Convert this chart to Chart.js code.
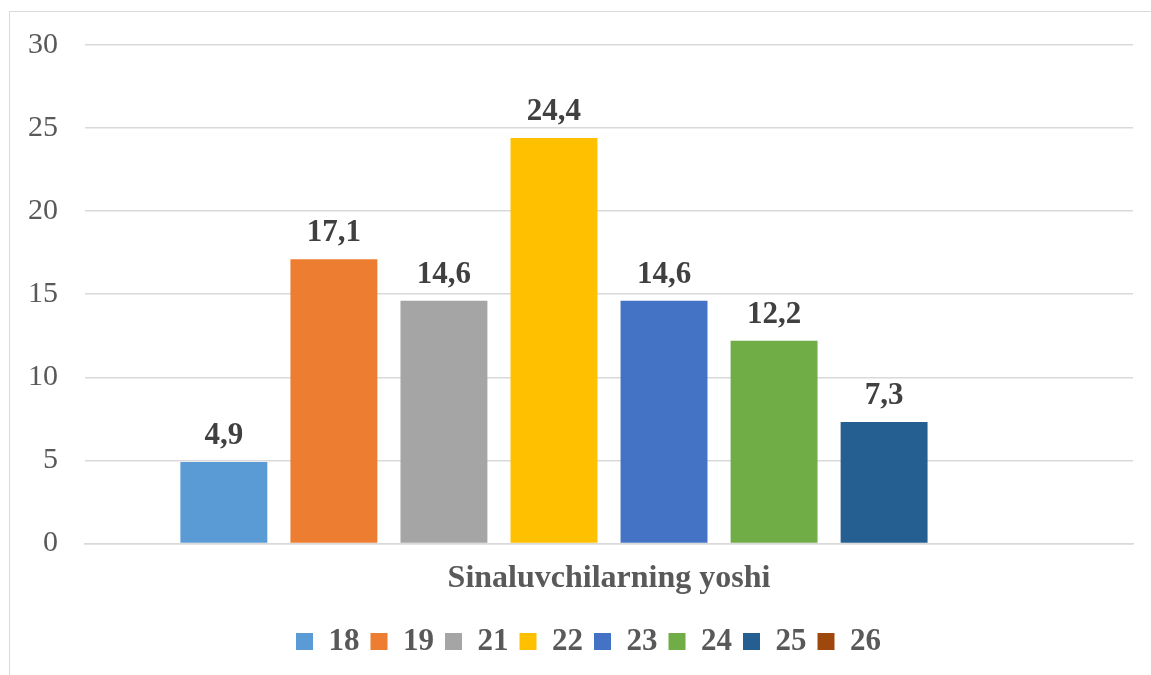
<!DOCTYPE html>
<html>
<head>
<meta charset="utf-8">
<script src="https://cdn.jsdelivr.net/npm/chart.js@4.4.1/dist/chart.umd.min.js"></script>
<style>
  html, body { margin: 0; padding: 0; background: #fff; overflow: hidden; }
  #wrap { position: relative; width: 1151px; height: 675px; }
  #frame { position: absolute; left: 9px; top: 11px; width: 1200px; height: 700px;
           border-left: 1.5px solid #d9d9d9; border-top: 1.5px solid #d9d9d9; }
  canvas { position: absolute; left: 0; top: 0; }
</style>
</head>
<body>
<div id="wrap">
  <div id="frame"></div>
  <canvas id="chart" width="1151" height="675"></canvas>
</div>
<script>
// data
const categories = ['Sinaluvchilarning yoshi'];
const seriesNames = ['18', '19', '21', '22', '23', '24', '25', '26'];
const seriesValues = [4.9, 17.1, 14.6, 24.4, 14.6, 12.2, 7.3, null];
const seriesColors = ['#5B9BD5', '#ED7D31', '#A5A5A5', '#FFC000', '#4472C4', '#70AD47', '#255E91', '#9E480E'];
const yTicks = [0, 5, 10, 15, 20, 25, 30];

const serif = "'Liberation Serif', 'Times New Roman', serif";

// value labels above bars, with comma decimals
const valueLabels = {
  id: 'valueLabels',
  afterDatasetsDraw(chart) {
    const ctx = chart.ctx;
    ctx.save();
    ctx.font = 'bold 31px ' + serif;
    ctx.fillStyle = '#404040';
    ctx.textAlign = 'center';
    ctx.textBaseline = 'alphabetic';
    chart.data.datasets.forEach((ds, i) => {
      const meta = chart.getDatasetMeta(i);
      meta.data.forEach((bar, j) => {
        const v = ds.data[j];
        if (v === null || v === undefined) return;
        ctx.fillText(v.toFixed(1).replace('.', ','), bar.x, bar.y - 18);
      });
    });
    ctx.restore();
  }
};

// nudge legend a bit right, like the original
const legendShift = {
  id: 'legendShift',
  afterLayout(chart) {
    chart.legend.left += 22;
    chart.legend.right += 22;
  }
};

const datasets = seriesNames.map((name, i) => ({
  label: name,
  data: [seriesValues[i]],
  backgroundColor: seriesColors[i],
  borderWidth: 0,
  barPercentage: 0.79,
  categoryPercentage: 0.84
}));

new Chart(document.getElementById('chart').getContext('2d'), {
  type: 'bar',
  data: { labels: categories, datasets: datasets },
  plugins: [valueLabels, legendShift],
  options: {
    responsive: false,
    animation: false,
    layout: { padding: { top: 20, right: 18, left: 0, bottom: 8 } },
    plugins: {
      tooltip: { enabled: false },
      legend: {
        position: 'bottom',
        labels: {
          boxWidth: 17,
          boxHeight: 17,
          padding: 11,
          color: '#595959',
          font: { family: serif, size: 31, weight: 'bold' }
        }
      }
    },
    scales: {
      x: {
        grid: { display: false, drawTicks: false },
        border: { color: '#d9d9d9', width: 1.5 },
        ticks: {
          padding: 19,
          color: '#595959',
          font: { family: serif, size: 32, weight: 'bold', lineHeight: 1.05 }
        }
      },
      y: {
        min: 0,
        max: 30,
        afterBuildTicks(axis) { axis.ticks = yTicks.map(v => ({ value: v })); },
        afterFit(axis) { axis.width = 85; },
        grid: { color: '#d9d9d9', lineWidth: 1.5, drawTicks: false },
        border: { display: false },
        ticks: {
          padding: 27,
          color: '#595959',
          font: { family: serif, size: 30 }
        }
      }
    }
  }
});
</script>
</body>
</html>
